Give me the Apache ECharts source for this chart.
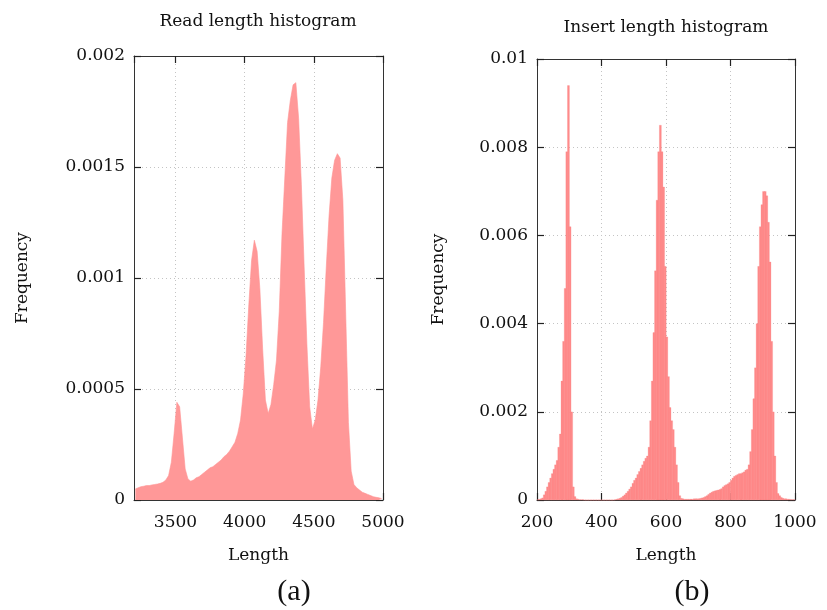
<!DOCTYPE html>
<html>
<head>
<meta charset="utf-8">
<script src="https://cdn.jsdelivr.net/npm/echarts@6/dist/echarts.min.js"></script>
<style>
  html, body { margin: 0; padding: 0; background: #fff; }
  #chart { width: 827px; height: 610px; }
</style>
</head>
<body>
<div id="chart"></div>
<script>
// read length histogram, 20-wide bins starting at 3200
const readBinStart = 3200;
const readBinWidth = 20;
const readFreq = [
  5.0e-5, 5.5e-5, 6.0e-5, 6.2e-5, 6.5e-5, 6.5e-5, 6.8e-5, 7.0e-5, 7.2e-5, 7.5e-5,
  8.0e-5, 9.0e-5, 1.1e-4, 1.7e-4, 3.0e-4, 4.4e-4, 4.2e-4, 2.8e-4, 1.4e-4, 9.5e-5,
  8.5e-5, 9.0e-5, 1.0e-4, 1.05e-4, 1.15e-4, 1.25e-4, 1.35e-4, 1.45e-4, 1.5e-4, 1.6e-4,
  1.7e-4, 1.8e-4, 1.95e-4, 2.05e-4, 2.2e-4, 2.4e-4, 2.6e-4, 3.0e-4, 3.6e-4, 4.8e-4,
  6.5e-4, 8.8e-4, 1.08e-3, 1.17e-3, 1.12e-3, 9.5e-4, 6.8e-4, 4.5e-4, 3.9e-4, 4.3e-4,
  5.2e-4, 6.3e-4, 8.5e-4, 1.2e-3, 1.45e-3, 1.7e-3, 1.8e-3, 1.87e-3, 1.88e-3, 1.72e-3,
  1.42e-3, 1.05e-3, 7.0e-4, 4.2e-4, 3.2e-4, 3.6e-4, 4.5e-4, 6.0e-4, 8.0e-4, 1.05e-3,
  1.28e-3, 1.45e-3, 1.53e-3, 1.56e-3, 1.54e-3, 1.35e-3, 8.5e-4, 3.5e-4, 1.3e-4, 7.0e-5,
  5.5e-5, 4.5e-5, 3.5e-5, 3.0e-5, 2.5e-5, 2.0e-5, 1.5e-5, 1.2e-5, 1.0e-5, 6.0e-6
];

// insert length histogram, 5-wide bins starting at 200
const insertBinStart = 200;
const insertBinWidth = 5;
const insertFreq = [
  // 200-245
  0.00001, 0.00002, 0.00003, 0.00005, 0.00012, 0.0002, 0.0003, 0.0004, 0.0005, 0.0006,
  // 250-295
  0.0007, 0.0008, 0.0009, 0.0012, 0.0015, 0.0027, 0.0036, 0.0048, 0.0079, 0.0094,
  // 300-345
  0.0062, 0.002, 0.0003, 0.00008, 0.00003, 0.00002, 0.00001, 0.00001, 0.00001, 0,
  // 350-395
  0, 0, 0, 0, 0, 0, 0, 0, 0, 0,
  // 400-445
  0, 0, 0, 0, 0, 0, 0, 0, 0.00001, 0.00002,
  // 450-495
  0.00003, 0.00004, 0.00006, 0.00009, 0.00012, 0.00016, 0.0002, 0.00025, 0.0003, 0.00038,
  // 500-545
  0.00045, 0.0005, 0.00058, 0.00065, 0.00072, 0.0008, 0.00088, 0.00095, 0.001, 0.0012,
  // 550-595
  0.0018, 0.0027, 0.0038, 0.0052, 0.0068, 0.0079, 0.0085, 0.0079, 0.0071, 0.0053,
  // 600-645
  0.0037, 0.0028, 0.0021, 0.0018, 0.0016, 0.0012, 0.0008, 0.0004, 0.0001, 0.00004,
  // 650-695
  0.00003, 0.00002, 0.00002, 0.00002, 0.00002, 0.00002, 0.00002, 0.00003, 0.00003, 0.00003,
  // 700-745
  0.00003, 0.00004, 0.00005, 0.00006, 0.00008, 0.0001, 0.00013, 0.00016, 0.00018, 0.0002,
  // 750-795
  0.00021, 0.00022, 0.00023, 0.00024, 0.00026, 0.0003, 0.00033, 0.00035, 0.00037, 0.0004,
  // 800-845
  0.00045, 0.0005, 0.00054, 0.00056, 0.00058, 0.0006, 0.0006, 0.00062, 0.00064, 0.00068,
  // 850-895
  0.0007, 0.0008, 0.0011, 0.0016, 0.0023, 0.003, 0.004, 0.0053, 0.0062, 0.0067,
  // 900-945
  0.007, 0.007, 0.0069, 0.0063, 0.0054, 0.0036, 0.002, 0.001, 0.0004, 0.00015,
  // 950-995
  0.0001, 0.00006, 0.00004, 0.00003, 0.00003, 0.00002, 0.00002, 0.00001, 0.00001, 0.00001
];

const readTitle = 'Read length histogram';
const insertTitle = 'Insert length histogram';

const readData = readFreq.map((v, i) => [readBinStart + readBinWidth * (i + 0.5), v]);
const insertData = insertFreq.map((v, i) => [insertBinStart + insertBinWidth * (i + 0.5), v]);

const FONT = '"DejaVu Serif", serif';
const labelStyle = { fontFamily: FONT, fontSize: 17, color: '#111' };
const gridLine = { show: true, lineStyle: { color: '#c4c4c4', type: [1, 3], width: 1 } };
const frameLine = { show: true, onZero: false, lineStyle: { color: '#333', width: 1 } };
const tick = { show: true, inside: true, length: 7, lineStyle: { color: '#222', width: 1.2 } };

// bottom + mirrored top x axes, left + mirrored right y axes for each panel
function xAxes(g, min, max, scaleOpts) {
  return [
    Object.assign({
      type: 'value', gridIndex: g, min, max, position: 'bottom',
      axisLine: frameLine, axisTick: tick, splitLine: gridLine,
      axisLabel: Object.assign({ margin: 14, showMinLabel: g === 0 ? false : true, formatter: v => String(v) }, labelStyle),
      name: 'Length', nameLocation: 'middle', nameGap: 47,
      nameTextStyle: labelStyle
    }, scaleOpts),
    Object.assign({
      type: 'value', gridIndex: g, min, max, position: 'top',
      axisLine: frameLine, axisTick: tick, splitLine: { show: false },
      axisLabel: { show: false }
    }, scaleOpts)
  ];
}
function yAxes(g, max, interval, nameGap) {
  return [
    {
      type: 'value', gridIndex: g, min: 0, max, interval, position: 'left',
      axisLine: frameLine, axisTick: tick, splitLine: gridLine,
      axisLabel: Object.assign({ margin: 9 }, labelStyle),
      name: 'Frequency', nameLocation: 'middle', nameRotate: 90, nameGap,
      nameTextStyle: labelStyle
    },
    {
      type: 'value', gridIndex: g, min: 0, max, interval, position: 'right',
      axisLine: frameLine, axisTick: tick, splitLine: { show: false },
      axisLabel: { show: false }
    }
  ];
}

const chart = echarts.init(document.getElementById('chart'));
chart.setOption({
  animation: false,
  backgroundColor: '#fff',
  grid: [
    { left: 134, top: 56, width: 249, height: 444 },
    { left: 537, top: 59, width: 258, height: 441 }
  ],
  xAxis: [
    ...xAxes(0, 3200, 5000, { splitNumber: 4 }),
    ...xAxes(1, 200, 1000, { interval: 200 })
  ],
  yAxis: [
    ...yAxes(0, 0.002, 0.0005, 103),
    ...yAxes(1, 0.01, 0.002, 90)
  ],
  graphic: [
    { type: 'text', style: { text: readTitle, x: 258, y: 22, textAlign: 'center', textVerticalAlign: 'middle', font: '17px ' + FONT, fill: '#111' } },
    { type: 'text', style: { text: insertTitle, x: 666, y: 28, textAlign: 'center', textVerticalAlign: 'middle', font: '17px ' + FONT, fill: '#111' } },
    { type: 'text', style: { text: '(a)', x: 294, y: 592, textAlign: 'center', textVerticalAlign: 'middle', font: '30px "Liberation Serif", serif', fill: '#111' } },
    { type: 'text', style: { text: '(b)', x: 692, y: 592, textAlign: 'center', textVerticalAlign: 'middle', font: '30px "Liberation Serif", serif', fill: '#111' } }
  ],
  series: [
    {
      type: 'line', xAxisIndex: 0, yAxisIndex: 0, data: readData,
      showSymbol: false, lineStyle: { width: 0.6, color: '#ff9494' },
      areaStyle: { color: '#ff9898', opacity: 1 }, z: 1
    },
    {
      type: 'bar', xAxisIndex: 2, yAxisIndex: 2, data: insertData,
      barWidth: 2.2,
      itemStyle: { color: '#ff8a8a', borderColor: '#f58080', borderWidth: 0.25 }, z: 1
    }
  ]
});
</script>
</body>
</html>
